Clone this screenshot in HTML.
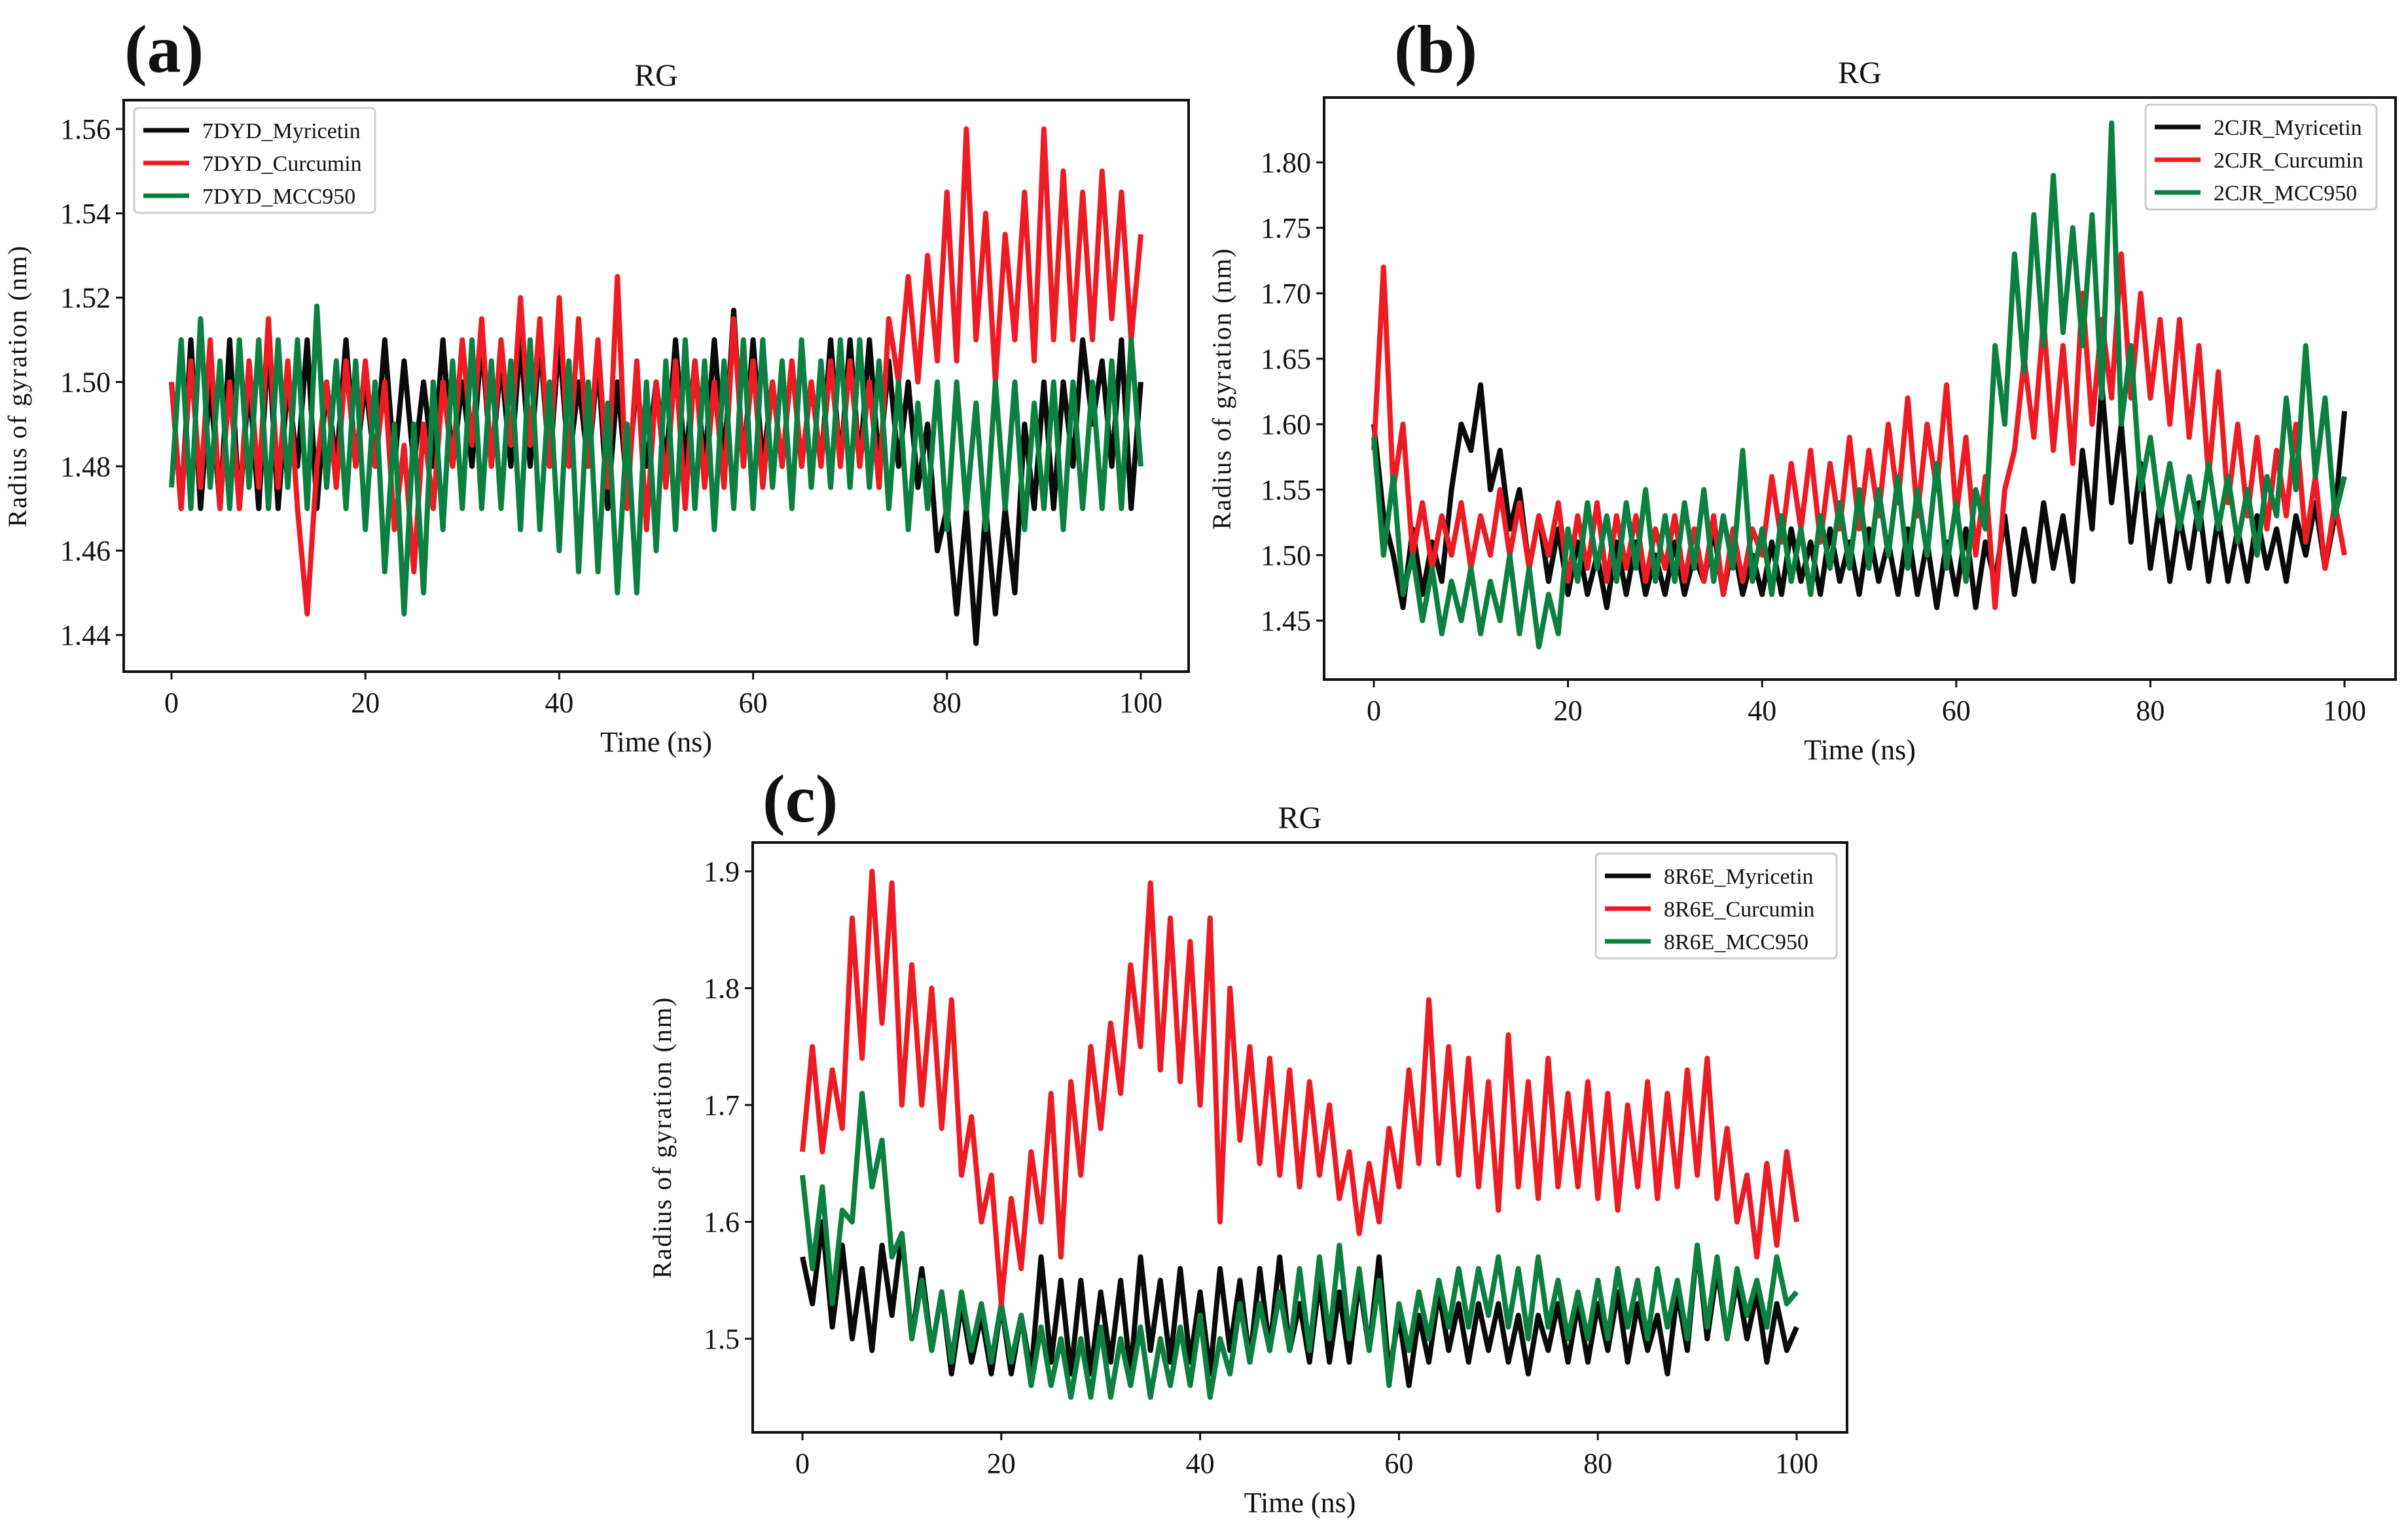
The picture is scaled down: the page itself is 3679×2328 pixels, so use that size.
<!DOCTYPE html>
<html><head><meta charset="utf-8">
<style>
html,body{margin:0;padding:0;background:#fff;}
svg{display:block;font-family:"Liberation Serif",serif;}
</style></head>
<body>
<svg id="fig" width="3679" height="2328" viewBox="0 0 3679 2328" xmlns="http://www.w3.org/2000/svg"></svg>
<script>
// ---------- data ----------
const timeNs = Array.from({length:101},(_,i)=>i);

const aMyricetin=[1.50,1.47,1.51,1.47,1.50,1.47,1.51,1.47,1.50,1.47, 1.51,1.47,1.50,1.48,1.51,1.47,1.50,1.48,1.51,1.48, 1.50,1.48,1.51,1.48,1.505,1.48,1.50,1.48,1.51,1.48, 1.50,1.48,1.51,1.48,1.505,1.48,1.51,1.48,1.51,1.48, 1.51,1.48,1.50,1.48,1.505,1.47,1.50,1.475,1.50,1.48, 1.50,1.48,1.51,1.48,1.505,1.48,1.51,1.48,1.517,1.48, 1.51,1.48,1.50,1.48,1.505,1.48,1.50,1.48,1.51,1.48, 1.51,1.48,1.51,1.48,1.505,1.48,1.50,1.475,1.49,1.46, 1.47,1.445,1.47,1.438,1.47,1.445,1.47,1.45,1.49,1.47, 1.50,1.47,1.50,1.48,1.51,1.49,1.505,1.48,1.51,1.47, 1.50];
const aCurcumin=[1.50,1.47,1.505,1.475,1.51,1.47,1.50,1.47,1.505,1.475, 1.515,1.475,1.505,1.47,1.445,1.48,1.50,1.475,1.505,1.48, 1.505,1.48,1.50,1.465,1.485,1.455,1.49,1.47,1.50,1.48, 1.51,1.485,1.515,1.48,1.51,1.485,1.52,1.485,1.515,1.48, 1.52,1.48,1.515,1.48,1.51,1.475,1.525,1.47,1.505,1.465, 1.50,1.475,1.505,1.47,1.505,1.475,1.50,1.475,1.515,1.48, 1.505,1.475,1.50,1.48,1.505,1.48,1.50,1.48,1.505,1.48, 1.505,1.48,1.50,1.475,1.515,1.50,1.525,1.50,1.53,1.505, 1.545,1.505,1.56,1.51,1.54,1.50,1.535,1.51,1.545,1.505, 1.56,1.51,1.55,1.51,1.545,1.51,1.55,1.515,1.545,1.51, 1.535];
const aMCC950=[1.475,1.51,1.47,1.515,1.475,1.505,1.47,1.51,1.475,1.51, 1.47,1.51,1.475,1.51,1.47,1.518,1.475,1.505,1.47,1.505, 1.465,1.50,1.455,1.49,1.445,1.49,1.45,1.50,1.465,1.505, 1.47,1.51,1.47,1.505,1.47,1.505,1.465,1.51,1.465,1.50, 1.46,1.505,1.455,1.50,1.455,1.495,1.45,1.49,1.45,1.50, 1.46,1.505,1.465,1.51,1.47,1.505,1.465,1.505,1.47,1.51, 1.47,1.51,1.475,1.505,1.47,1.51,1.475,1.505,1.475,1.51, 1.475,1.51,1.475,1.505,1.47,1.50,1.465,1.495,1.47,1.50, 1.465,1.50,1.47,1.495,1.465,1.50,1.47,1.50,1.465,1.495, 1.47,1.50,1.465,1.50,1.47,1.50,1.47,1.505,1.47,1.51, 1.48];

const bMyricetin=[1.60,1.53,1.50,1.46,1.52,1.47,1.51,1.48,1.55,1.60, 1.58,1.63,1.55,1.58,1.52,1.55,1.49,1.53,1.48,1.52, 1.47,1.51,1.47,1.50,1.46,1.51,1.47,1.51,1.47,1.50, 1.47,1.51,1.47,1.50,1.48,1.52,1.47,1.51,1.47,1.50, 1.47,1.51,1.47,1.52,1.48,1.51,1.47,1.52,1.48,1.51, 1.47,1.52,1.48,1.51,1.47,1.52,1.47,1.51,1.46,1.51, 1.47,1.52,1.46,1.51,1.48,1.53,1.47,1.52,1.48,1.54, 1.49,1.53,1.48,1.58,1.52,1.63,1.54,1.60,1.51,1.57, 1.49,1.54,1.48,1.53,1.49,1.54,1.48,1.53,1.48,1.52, 1.48,1.53,1.49,1.52,1.48,1.53,1.50,1.54,1.49,1.53, 1.61];
const bCurcumin=[1.58,1.72,1.55,1.60,1.50,1.54,1.49,1.53,1.50,1.54, 1.49,1.53,1.50,1.55,1.50,1.54,1.49,1.53,1.50,1.54, 1.48,1.53,1.49,1.54,1.48,1.53,1.49,1.53,1.48,1.52, 1.49,1.53,1.48,1.52,1.48,1.53,1.47,1.52,1.48,1.52, 1.50,1.56,1.51,1.57,1.52,1.58,1.51,1.57,1.52,1.59, 1.52,1.58,1.53,1.60,1.54,1.62,1.53,1.60,1.55,1.63, 1.53,1.59,1.50,1.56,1.46,1.55,1.58,1.65,1.59,1.68, 1.58,1.66,1.57,1.70,1.60,1.68,1.62,1.73,1.62,1.70, 1.62,1.68,1.60,1.68,1.59,1.66,1.56,1.64,1.54,1.60, 1.53,1.59,1.52,1.58,1.53,1.60,1.51,1.56,1.49,1.54, 1.50];
const bMCC950=[1.59,1.50,1.56,1.47,1.50,1.45,1.49,1.44,1.48,1.45, 1.49,1.44,1.48,1.45,1.50,1.44,1.49,1.43,1.47,1.44, 1.52,1.48,1.54,1.49,1.53,1.48,1.54,1.49,1.55,1.48, 1.53,1.48,1.54,1.49,1.55,1.48,1.53,1.49,1.58,1.48, 1.52,1.47,1.53,1.48,1.52,1.47,1.53,1.49,1.54,1.49, 1.55,1.49,1.55,1.50,1.56,1.49,1.55,1.50,1.57,1.49, 1.54,1.48,1.55,1.52,1.66,1.60,1.73,1.64,1.76,1.66, 1.79,1.67,1.75,1.66,1.76,1.62,1.83,1.60,1.66,1.55, 1.59,1.53,1.57,1.52,1.56,1.52,1.57,1.52,1.56,1.51, 1.55,1.50,1.56,1.53,1.62,1.55,1.66,1.56,1.62,1.53, 1.56];

const cMyricetin=[1.57,1.53,1.60,1.51,1.58,1.50,1.56,1.49,1.58,1.52, 1.59,1.50,1.56,1.49,1.54,1.47,1.53,1.48,1.52,1.47, 1.53,1.47,1.52,1.47,1.57,1.48,1.55,1.47,1.55,1.47, 1.54,1.48,1.55,1.47,1.57,1.49,1.55,1.48,1.56,1.48, 1.54,1.47,1.56,1.49,1.55,1.48,1.56,1.49,1.57,1.49, 1.53,1.48,1.55,1.48,1.54,1.48,1.55,1.49,1.57,1.47, 1.52,1.46,1.52,1.48,1.54,1.49,1.53,1.48,1.53,1.49, 1.53,1.48,1.52,1.47,1.52,1.49,1.53,1.48,1.53,1.48, 1.53,1.49,1.54,1.48,1.53,1.49,1.52,1.47,1.54,1.49, 1.58,1.50,1.56,1.50,1.55,1.50,1.54,1.48,1.53,1.49, 1.51];
const cCurcumin=[1.66,1.75,1.66,1.73,1.68,1.86,1.74,1.90,1.77,1.89, 1.70,1.82,1.70,1.80,1.68,1.79,1.64,1.69,1.60,1.64, 1.53,1.62,1.56,1.66,1.60,1.71,1.57,1.72,1.64,1.75, 1.68,1.77,1.71,1.82,1.75,1.89,1.73,1.86,1.72,1.84, 1.70,1.86,1.60,1.80,1.67,1.75,1.65,1.74,1.64,1.73, 1.63,1.72,1.64,1.70,1.62,1.66,1.59,1.65,1.60,1.68, 1.63,1.73,1.65,1.79,1.65,1.75,1.64,1.74,1.63,1.72, 1.61,1.76,1.63,1.72,1.62,1.74,1.63,1.71,1.63,1.72, 1.62,1.71,1.61,1.70,1.63,1.72,1.62,1.71,1.63,1.73, 1.64,1.74,1.62,1.68,1.60,1.64,1.57,1.65,1.58,1.66, 1.60];
const cMCC950=[1.64,1.56,1.63,1.53,1.61,1.60,1.71,1.63,1.67,1.57, 1.59,1.50,1.55,1.49,1.54,1.48,1.54,1.49,1.53,1.48, 1.53,1.48,1.52,1.46,1.51,1.46,1.50,1.45,1.50,1.45, 1.51,1.45,1.50,1.46,1.51,1.45,1.50,1.46,1.51,1.46, 1.52,1.45,1.50,1.47,1.53,1.48,1.53,1.49,1.54,1.49, 1.56,1.49,1.57,1.50,1.58,1.50,1.56,1.49,1.55,1.46, 1.53,1.49,1.54,1.50,1.55,1.51,1.56,1.51,1.56,1.52, 1.57,1.51,1.56,1.50,1.57,1.51,1.55,1.50,1.54,1.50, 1.55,1.50,1.56,1.51,1.55,1.50,1.56,1.51,1.55,1.50, 1.58,1.51,1.57,1.50,1.56,1.52,1.55,1.51,1.57,1.53, 1.54];

const xTickLabels=["0","20","40","60","80","100"];
const xTickValues=[0,20,40,60,80,100];
const aYTicks=[1.44,1.46,1.48,1.50,1.52,1.54,1.56];
const bYTicks=[1.45,1.50,1.55,1.60,1.65,1.70,1.75,1.80];
const cYTicks=[1.5,1.6,1.7,1.8,1.9];
const aLegendLabels=["7DYD_Myricetin","7DYD_Curcumin","7DYD_MCC950"];
const bLegendLabels=["2CJR_Myricetin","2CJR_Curcumin","2CJR_MCC950"];
const cLegendLabels=["8R6E_Myricetin","8R6E_Curcumin","8R6E_MCC950"];

const COL={black:"#0a0a0a",red:"#ed1c24",green:"#0b8040"};
const NS="http://www.w3.org/2000/svg";
const svg=document.getElementById("fig");

function mk(tag,attrs,parent){const e=document.createElementNS(NS,tag);for(const k in attrs)e.setAttribute(k,attrs[k]);(parent||svg).appendChild(e);return e;}
function txt(s,attrs,parent){const e=mk("text",attrs,parent);e.textContent=s;return e;}

function panel(p){
  const g=mk("g",{});
  
  
  const xs=v=>p.x0+(v-0)*(p.x100-p.x0)/100;
  const ys=v=>p.yA+(v-p.vA)*(p.yB-p.yA)/(p.vB-p.vA);
  p.drawOrder.forEach(si=>{
    const s=p.series[si];
    const d=s.data.map((v,i)=>(i?"L":"M")+xs(timeNs[i]).toFixed(1)+" "+ys(v).toFixed(1)).join(" ");
    const path=mk("path",{d:d,fill:"none",stroke:s.color,"stroke-width":8,"stroke-linejoin":"round"},g);
    
    
  });
  const fr=mk("rect",{x:p.L,y:p.T,width:p.R-p.L,height:p.B-p.T,fill:"none",stroke:"#111","stroke-width":4},g);
  
  
  xTickValues.forEach((v,i)=>{
    const x=xs(v);
    mk("line",{x1:x,x2:x,y1:p.B,y2:p.B+12,stroke:"#111","stroke-width":3},g);
    const t=txt(xTickLabels[i],{x:x,y:p.B+62,"font-size":44,"text-anchor":"middle",fill:"#111"},g);
    
    
  });
  p.yTicks.forEach(v=>{
    const y=ys(v);
    mk("line",{x1:p.L-12,x2:p.L,y1:y,y2:y,stroke:"#111","stroke-width":3},g);
    const t=txt(v.toFixed(p.dec),{x:p.L-20,y:y+15,"font-size":44,"text-anchor":"end",fill:"#111"},g);
    
    
  });
  const xl=txt("Time (ns)",{x:(p.L+p.R)/2,y:p.B+122,"font-size":44,"text-anchor":"middle",fill:"#111"},g);
  
  
  const yl=txt("Radius of gyration (nm)",{x:0,y:0,"font-size":40,"text-anchor":"middle",fill:"#111",transform:"translate("+p.ylx+","+((p.T+p.B)/2)+") rotate(-90)","letter-spacing":"2"},g);
  
  
  const ti=txt("RG",{x:(p.L+p.R)/2,y:p.T-22,"font-size":48,"text-anchor":"middle",fill:"#111"},g);
  
  
  const lab=txt(p.label,{x:p.labX,y:p.labY,"font-size":104,"font-weight":"bold",fill:"#111"},g);
  
  
  const lg=mk("g",{},g);
  
  
  mk("rect",{x:p.lgX,y:p.lgY,width:p.lgW,height:160,rx:6,fill:"#fff",stroke:"#ccc","stroke-width":3},lg);
  p.series.forEach((s,i)=>{
    const y=p.lgY+34+i*50;
    const it=mk("g",{},lg);
    
    
    mk("line",{x1:p.lgX+14,x2:p.lgX+84,y1:y,y2:y,stroke:s.color,"stroke-width":7},it);
    txt(p.legend[i],{x:p.lgX+104,y:y+12,"font-size":34,fill:"#111"},it);
  });
}

panel({id:"a",L:189,R:1816,T:153,B:1026,x0:262,x100:1743,vA:1.44,yA:970,vB:1.56,yB:197,yTicks:aYTicks,dec:2,
  ylx:40,label:"(a)",labX:190,labY:110,lgX:205,lgY:165,lgW:368,legend:aLegendLabels,drawOrder:[0,1,2],
  series:[{name:"7dyd-myricetin",color:COL.black,data:aMyricetin},{name:"7dyd-curcumin",color:COL.red,data:aCurcumin},{name:"7dyd-mcc950",color:COL.green,data:aMCC950}]});
panel({id:"b",L:2023,R:3660,T:149,B:1038,x0:2099,x100:3582,vA:1.45,yA:948,vB:1.80,yB:248,yTicks:bYTicks,dec:2,
  ylx:1880,label:"(b)",labX:2130,labY:110,lgX:3278,lgY:160,lgW:353,legend:bLegendLabels,drawOrder:[0,1,2],
  series:[{name:"2cjr-myricetin",color:COL.black,data:bMyricetin},{name:"2cjr-curcumin",color:COL.red,data:bCurcumin},{name:"2cjr-mcc950",color:COL.green,data:bMCC950}]});
panel({id:"c",L:1150,R:2822,T:1287,B:2188,x0:1226,x100:2745,vA:1.5,yA:2045,vB:1.9,yB:1331,yTicks:cYTicks,dec:1,
  ylx:1025,label:"(c)",labX:1165,labY:1255,lgX:2438,lgY:1304,lgW:368,legend:cLegendLabels,drawOrder:[0,2,1],
  series:[{name:"8r6e-myricetin",color:COL.black,data:cMyricetin},{name:"8r6e-curcumin",color:COL.red,data:cCurcumin},{name:"8r6e-mcc950",color:COL.green,data:cMCC950}]});
</script>
</body></html>
